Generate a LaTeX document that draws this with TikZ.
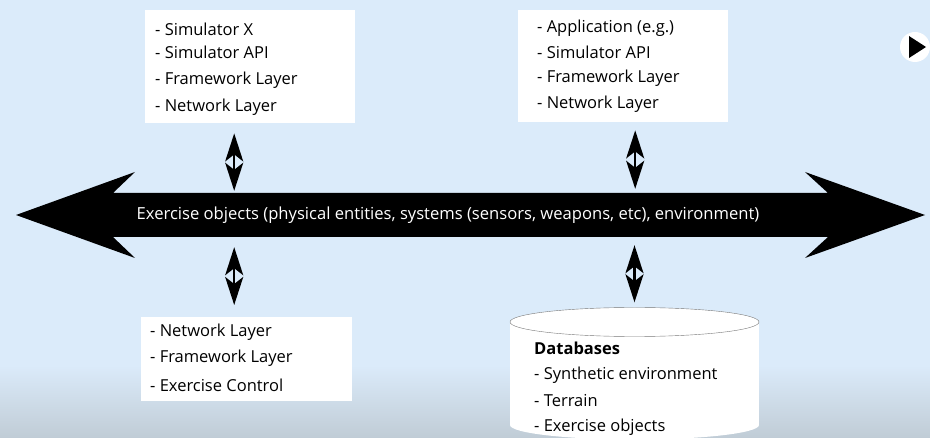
\documentclass[tikz,border=0pt]{standalone}
\usepackage{fontspec}
\setmainfont{Open Sans}
\usetikzlibrary{arrows.meta,shapes.geometric}
\definecolor{bg}{RGB}{219,235,250}
\definecolor{bgdark}{RGB}{192,204,214}
\definecolor{rimgray}{RGB}{120,120,120}
\begin{document}
\begin{tikzpicture}[x=1pt,y=-1pt,
  box/.style={fill=white, inner sep=0pt, anchor=north west},
  item/.style={anchor=west, inner sep=0pt, font=\fontsize{16.5}{19}\selectfont},
  vlink/.style={line width=2.2pt,
    {Stealth[length=28pt,width=18pt,inset=7pt]}-{Stealth[length=28pt,width=18pt,inset=7pt]}},
]
\useasboundingbox (0,0) rectangle (930,438);
\fill[bg] (0,0) rectangle (930,438);
\shade[top color=bg, bottom color=bgdark] (0,365) rectangle (930,438);

% top boxes
\node[box, minimum width=210pt, minimum height=113pt] (b1) at (145,10) {};
\node[item] (b1a) at (155,29) {- Simulator X};
\node[item] (b1b) at (155,52) {- Simulator API};
\node[item] (b1c) at (155,80) {- Framework Layer};
\node[item] (b1d) at (155,107) {- Network Layer};

\node[box, minimum width=210pt, minimum height=112pt] (b2) at (518,10) {};
\node[item] (b2a) at (537,28) {- Application (e.g.)};
\node[item] (b2b) at (537,52) {- Simulator API};
\node[item] (b2c) at (537,78) {- Framework Layer};
\node[item] (b2d) at (537,104) {- Network Layer};

% bottom-left box
\node[box, minimum width=211pt, minimum height=84pt] (b3) at (141,317) {};
\node[item] (b3a) at (150,332) {- Network Layer};
\node[item] (b3b) at (150,358) {- Framework Layer};
\node[item] (b3c) at (150,385) {- Exercise Control};

% database cylinder
\fill[white] (510,322) rectangle (759,425);
\fill[white] (634.5,425) ellipse [x radius=124.5, y radius=14.5];
\node[ellipse, draw=rimgray, fill=white, minimum width=249pt, minimum height=29pt, inner sep=0pt] (db) at (634.5,322) {};
\node[item, font=\fontsize{16.5}{19}\selectfont\bfseries] (dbt) at (534,348) {Databases};
\node[item] (dba) at (534,375) {- Synthetic environment};
\node[item] (dbb) at (534,401) {- Terrain};
\node[item] (dbc) at (534,427) {- Exercise objects};

% exercise-object bus (big double arrow)
\fill[black] (16,215) -- (135,172) -- (113,193) -- (828,193) -- (805,172) -- (925,215)
  -- (805,258) -- (828,237) -- (113,237) -- (135,258) -- cycle;
\node[inner sep=0pt, minimum width=715pt, minimum height=44pt] (bus) at (470.5,215) {};
\node[text=white, inner sep=0pt, font=\fontsize{16.6}{19}\selectfont] (bustext) at (448,215)
  {Exercise objects (physical entities, systems (sensors, weapons, etc), environment)};

% vertical links
\draw[vlink, shorten <=10pt, shorten >=2pt] ([xshift=-16pt]b1.south) -- ([xshift=-16pt]b1.south |- bus.north);
\draw[vlink, shorten <=8pt, shorten >=4pt] ([xshift=12pt]b2.south) -- ([xshift=12pt]b2.south |- bus.north);
\draw[vlink, shorten <=10pt, shorten >=12pt] ([xshift=-12.5pt]b3.north |- bus.south) -- ([xshift=-12.5pt]b3.north);
\draw[vlink, shorten <=8pt, shorten >=5pt] (db.north |- bus.south) -- (db.north);

% play icon
\fill[white] (915,47) circle [radius=15];
\fill[black] (909,36) -- (926,47) -- (909,58) -- cycle;
\end{tikzpicture}
\end{document}
